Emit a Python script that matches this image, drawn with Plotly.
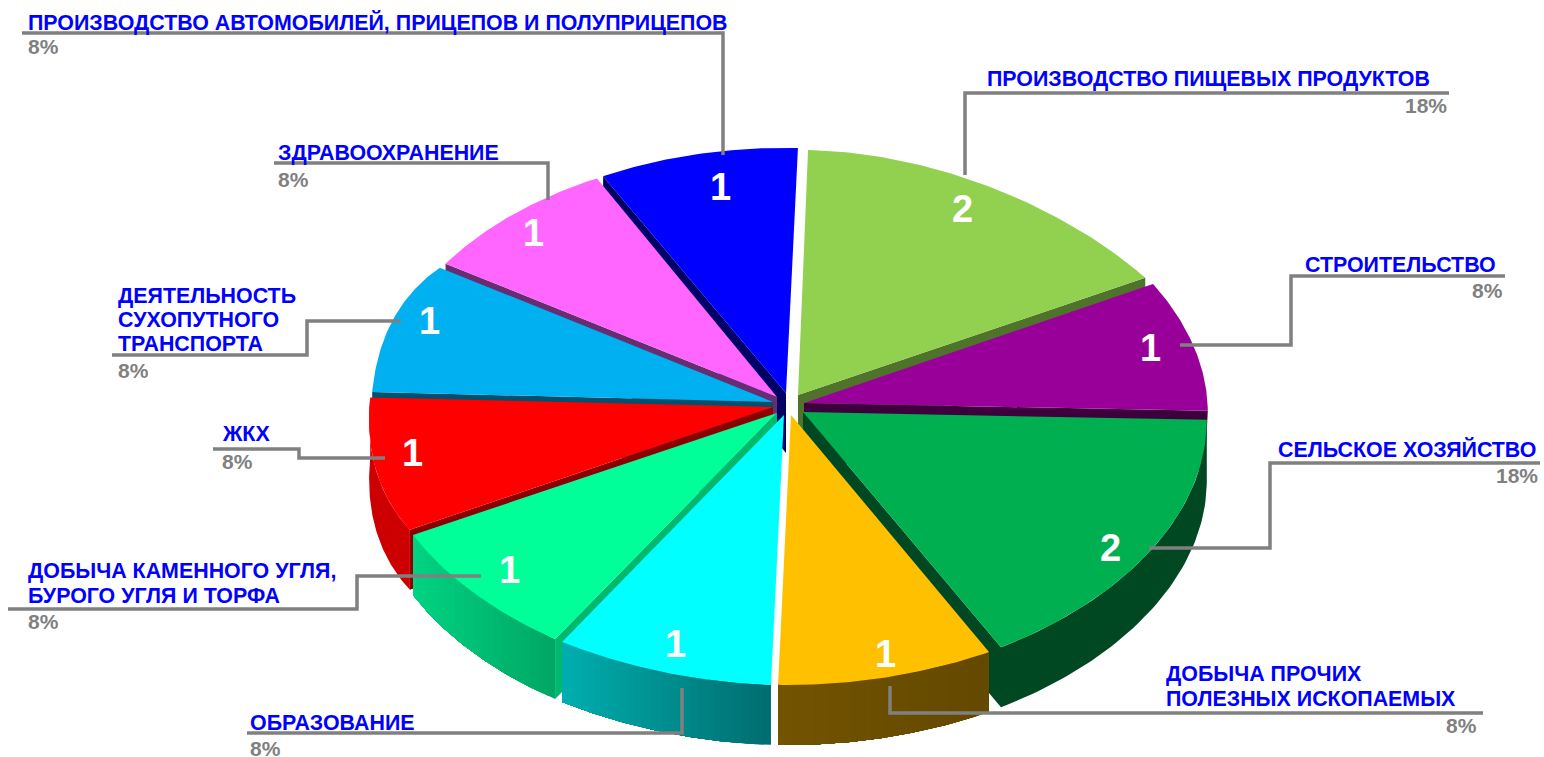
import numpy as np
import plotly.graph_objects as go

# ---------- data ----------
categories = ["ПРОИЗВОДСТВО ПИЩЕВЫХ ПРОДУКТОВ", "СТРОИТЕЛЬСТВО", "СЕЛЬСКОЕ ХОЗЯЙСТВО",
              "ДОБЫЧА ПРОЧИХ ПОЛЕЗНЫХ ИСКОПАЕМЫХ", "ОБРАЗОВАНИЕ",
              "ДОБЫЧА КАМЕННОГО УГЛЯ, БУРОГО УГЛЯ И ТОРФА", "ЖКХ",
              "ДЕЯТЕЛЬНОСТЬ СУХОПУТНОГО ТРАНСПОРТА", "ЗДРАВООХРАНЕНИЕ",
              "ПРОИЗВОДСТВО АВТОМОБИЛЕЙ, ПРИЦЕПОВ И ПОЛУПРИЦЕПОВ"]
values = [2, 1, 2, 1, 1, 1, 1, 1, 1, 1]
percent_labels = ["18%", "8%", "18%", "8%", "8%", "8%", "8%", "8%", "8%", "8%"]

# ---------- style / layout ----------
top_colors = ["#92D050", "#990099", "#00B050", "#FFC000", "#00FFFF",
              "#00FF99", "#FF0000", "#00B0F0", "#FF66FF", "#0000FF"]
wall_colors = ["#50732C", "#3D003D", "#004822", None, None,
               "#00B86E", "#8B0000", "#00506E", "#662D70", "#000066"]
rim_colors = [None, None, ("#004822", "#004822"), ("#735400", "#644900"), ("#00B0B0", "#006E70"),
              ("#00D483", "#00A864"), ("#CC0000", "#CC0000"), None, None, None]
wall_side = ["end", "end", "end", None, None, "start", "start", "start", "start", "start"]
wall_taper = [0, 0.0075, 0, 0, 0, 0, 0, 0, 0, 0]
apex = [(798, 395), (804, 403), (803, 412), (791, 415), (784, 415),
        (777, 413), (773, 407), (773, 402), (777, 397), (786, 393)]
rx = [(320, 394), (396, 404), (404, 419), (419, 411), (415, 421),
      (421, 413), (412, 403), (401, 392), (390, 381), (387, 380)]
ry = [(245, 248), (252, 250), (250, 267), (269, 270), (270, 267),
      (266, 258), (260, 300), (320, 255), (253, 248), (246, 245)]
draw_order = [0, 9, 1, 8, 7, 2, 6, 5, 3, 4]
ROTATION = 1.8
DEPTH = 60
LEADER = "#808080"


def hex_rgb(c):
    return np.array([int(c[i:i + 2], 16) for i in (1, 3, 5)], dtype=float)


def poly(fig, xs, ys, color):
    fig.add_trace(go.Scatter(x=xs, y=ys, mode="lines", fill="toself", fillcolor=color,
                             line=dict(color=color, width=0), hoverinfo="skip", showlegend=False))


fig = go.Figure()
edges = np.cumsum([0] + values) / sum(values) * 360 + ROTATION

for i in draw_order:
    t0, t1 = np.radians(edges[i]), np.radians(edges[i + 1])
    s = np.linspace(0, 1, 61)
    t = t0 + (t1 - t0) * s
    rxs = rx[i][0] + (rx[i][1] - rx[i][0]) * s
    rys = ry[i][0] + (ry[i][1] - ry[i][0]) * s
    ax, ay = apex[i]
    ex = ax + rxs * np.sin(t)
    ey = ay - rys * np.cos(t)

    if wall_side[i]:
        k = 0 if wall_side[i] == "start" else -1
        ex_low = ex[k] - wall_taper[i] * (ex[k] - ax)
        poly(fig, [ax, ex[k], ex_low, ax, ax],
             [ay, ey[k], ey[k] + DEPTH, ay + DEPTH, ay], wall_colors[i])

    if rim_colors[i]:
        c0, c1 = hex_rgb(rim_colors[i][0]), hex_rgb(rim_colors[i][1])
        n = len(t) - 1
        step = n if rim_colors[i][0] == rim_colors[i][1] else 2
        # each strip runs to the far end of the rim, so no seam shows between strips
        for j in range(0, n, step):
            xs = ex[j:]
            ys = ey[j:]
            frac = (ex[j] - ex.min()) / max(ex.max() - ex.min(), 1)
            col = c0 + (c1 - c0) * frac
            poly(fig, np.r_[xs, xs[::-1], xs[0]], np.r_[ys, ys[::-1] + DEPTH, ys[0]],
                 "rgb(%d,%d,%d)" % tuple(col))

    poly(fig, np.r_[ax, ex, ax], np.r_[ay, ey, ay], top_colors[i])

# ---------- leader lines ----------
leaders = [
    ([965, 965, 1449], [175, 93, 93]),
    ([1180, 1291, 1291, 1505], [345, 345, 276, 276]),
    ([1149, 1270, 1270, 1540], [548, 548, 463, 463]),
    ([890, 890, 1483], [686, 713, 713]),
    ([682, 682, 247], [688, 733, 733]),
    ([481, 357, 357, 8], [576, 576, 609, 609]),
    ([385, 299, 299, 213], [458, 458, 449, 449]),
    ([401, 307, 307, 112], [321, 321, 355, 355]),
    ([548, 548, 274], [200, 163, 163]),
    ([723, 723, 22], [155, 33, 33]),
]
for lx, ly in leaders:
    fig.add_trace(go.Scatter(x=lx, y=ly, mode="lines", hoverinfo="skip", showlegend=False,
                             line=dict(color=LEADER, width=3.5)))

# ---------- text ----------
FONT = "Liberation Sans"
name_lines = [
    (["ПРОИЗВОДСТВО ПИЩЕВЫХ ПРОДУКТОВ"], 987, [79], 1447, 105, "right"),
    (["СТРОИТЕЛЬСТВО"], 1305, [265], 1503, 290, "right"),
    (["СЕЛЬСКОЕ ХОЗЯЙСТВО"], 1278, [449], 1538, 475, "right"),
    (["ДОБЫЧА ПРОЧИХ", "ПОЛЕЗНЫХ ИСКОПАЕМЫХ"], 1166, [674, 699], 1477, 725, "right"),
    (["ОБРАЗОВАНИЕ"], 250, [723], 250, 748, "left"),
    (["ДОБЫЧА КАМЕННОГО УГЛЯ,", "БУРОГО УГЛЯ И ТОРФА"], 28, [571, 596], 28, 621, "left"),
    (["ЖКХ"], 222, [434], 222, 461, "left"),
    (["ДЕЯТЕЛЬНОСТЬ", "СУХОПУТНОГО", "ТРАНСПОРТА"], 118, [296, 320, 344], 118, 370, "left"),
    (["ЗДРАВООХРАНЕНИЕ"], 278, [153], 278, 179, "left"),
    (["ПРОИЗВОДСТВО АВТОМОБИЛЕЙ, ПРИЦЕПОВ И ПОЛУПРИЦЕПОВ"], 28, [22], 28, 46, "left"),
]
value_pos = [(962, 209), (1150, 348), (1110, 548), (885, 654), (675, 644),
             (509, 570), (412, 453), (429, 321), (533, 233), (720, 187)]

ann = []
for (lines, lx, lys, px, py, anchor), pct, val, vp in zip(name_lines, percent_labels, values, value_pos):
    for txt, y in zip(lines, lys):
        ann.append(dict(x=lx, y=y, text="<b>%s</b>" % txt, xanchor="left", yanchor="middle",
                        showarrow=False, font=dict(family=FONT, size=21.4, color="#0000FF")))
    ann.append(dict(x=px, y=py, text="<b>%s</b>" % pct, xanchor=anchor, yanchor="middle",
                    showarrow=False, font=dict(family=FONT, size=21, color=LEADER)))
    ann.append(dict(x=vp[0], y=vp[1], text="<b>%d</b>" % val, xanchor="center", yanchor="middle",
                    showarrow=False, font=dict(family=FONT, size=38, color="#FFFFFF")))
for a in ann:
    a.update(xref="x", yref="y", borderpad=0, borderwidth=0)

fig.update_layout(
    width=1544, height=757, margin=dict(l=0, r=0, t=0, b=0),
    paper_bgcolor="white", plot_bgcolor="white", showlegend=False, annotations=ann,
    xaxis=dict(range=[0, 1544], visible=False, fixedrange=True),
    yaxis=dict(range=[757, 0], visible=False, fixedrange=True),
)
fig.write_html("out.html", config={"displayModeBar": False},
               post_script="document.body.style.margin='0';document.body.style.overflow='hidden';")
